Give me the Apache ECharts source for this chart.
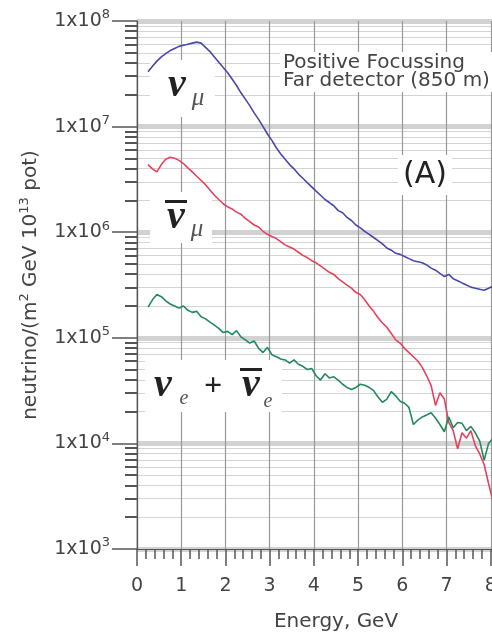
<!DOCTYPE html>
<html><head><meta charset="utf-8">
<script src="https://cdn.jsdelivr.net/npm/echarts@6/dist/echarts.min.js"></script>
<style>html,body{margin:0;padding:0;background:#fff}#c{width:492px;height:637px}</style>
</head><body><div id="c"></div>
<script>
// Energy bin centres (GeV)
const energy = [0.25,0.35,0.45,0.55,0.65,0.75,0.85,0.95,1.05,1.15,
 1.25,1.35,1.45,1.55,1.65,1.75,1.85,1.95,2.05,2.15,
 2.25,2.35,2.45,2.55,2.65,2.75,2.85,2.95,3.05,3.15,
 3.25,3.35,3.45,3.55,3.65,3.75,3.85,3.95,4.05,4.15,
 4.25,4.35,4.45,4.55,4.65,4.75,4.85,4.95,5.05,5.15,
 5.25,5.35,5.45,5.55,5.65,5.75,5.85,5.95,6.05,6.15,
 6.25,6.35,6.45,6.55,6.65,6.75,6.85,6.95,7.05,7.15,
 7.25,7.35,7.45,7.55,7.65,7.75,7.85,7.95,8.05];
// nu_mu flux
const numu = [3.31e7,3.72e7,4.17e7,4.57e7,4.90e7,5.25e7,5.50e7,5.75e7,5.89e7,6.03e7,
 6.17e7,6.31e7,6.17e7,5.62e7,5.13e7,4.57e7,4.07e7,3.63e7,3.24e7,2.82e7,
 2.45e7,2.09e7,1.82e7,1.58e7,1.35e7,1.17e7,1.00e7,8.51e6,7.41e6,6.31e6,
 5.50e6,4.90e6,4.37e6,3.98e6,3.55e6,3.24e6,2.95e6,2.69e6,2.45e6,2.24e6,
 2.04e6,1.91e6,1.78e6,1.60e6,1.53e6,1.38e6,1.29e6,1.17e6,1.10e6,1.02e6,
 9.55e5,8.91e5,8.32e5,7.76e5,7.08e5,6.76e5,6.31e5,6.17e5,5.89e5,5.62e5,
 5.37e5,5.25e5,5.13e5,4.90e5,4.57e5,4.37e5,4.07e5,3.80e5,3.98e5,3.63e5,
 3.47e5,3.31e5,3.16e5,3.02e5,2.95e5,2.88e5,2.82e5,2.95e5,3.09e5];
// anti nu_mu flux
const numubar = [4.37e6,3.98e6,3.72e6,4.37e6,4.90e6,5.13e6,5.01e6,4.79e6,4.47e6,4.07e6,
 3.72e6,3.39e6,3.09e6,2.82e6,2.51e6,2.24e6,2.04e6,1.86e6,1.74e6,1.66e6,
 1.55e6,1.48e6,1.35e6,1.26e6,1.17e6,1.12e6,1.02e6,9.55e5,9.12e5,8.71e5,
 8.13e5,7.59e5,7.24e5,6.92e5,6.46e5,6.03e5,5.75e5,5.37e5,5.13e5,4.79e5,
 4.47e5,4.17e5,3.98e5,3.63e5,3.39e5,3.16e5,2.95e5,2.69e5,2.57e5,2.29e5,
 2.00e5,1.78e5,1.55e5,1.38e5,1.26e5,1.10e5,9.55e4,8.91e4,7.94e4,7.24e4,
 6.61e4,6.03e4,5.25e4,4.37e4,3.55e4,2.29e4,3.02e4,2.63e4,1.58e4,1.32e4,
 8.91e3,1.26e4,1.12e4,1.32e4,9.55e3,7.94e3,6.31e3,4.17e3,2.82e3];
// nu_e + anti nu_e flux
const nue = [1.95e5,2.29e5,2.57e5,2.45e5,2.24e5,2.09e5,2.00e5,1.91e5,2.00e5,1.82e5,
 1.74e5,1.78e5,1.58e5,1.51e5,1.41e5,1.32e5,1.23e5,1.12e5,1.15e5,1.07e5,
 1.17e5,1.02e5,9.55e4,8.91e4,9.33e4,7.94e4,7.24e4,8.13e4,6.92e4,6.61e4,
 6.31e4,6.17e4,5.75e4,6.17e4,5.62e4,5.37e4,5.01e4,5.13e4,4.37e4,3.98e4,
 4.57e4,4.17e4,4.27e4,3.98e4,3.63e4,3.39e4,3.24e4,3.39e4,3.63e4,3.55e4,
 3.39e4,3.16e4,2.75e4,2.45e4,2.63e4,3.09e4,2.82e4,2.51e4,2.40e4,2.19e4,
 1.51e4,1.66e4,1.78e4,1.86e4,1.95e4,1.74e4,1.51e4,1.29e4,1.78e4,1.41e4,
 1.58e4,1.55e4,1.32e4,1.45e4,1.26e4,1.05e4,6.92e3,1.00e4,1.12e4];

const xTickLabels = ['0','1','2','3','4','5','6','7','8'];
const yTickExponents = [3,4,5,6,7,8];
const yMinorTicks = [];
for (let d = 3; d < 8; d++) for (let m = 2; m <= 9; m++) yMinorTicks.push(m * Math.pow(10, d));

const pairs = arr => energy.map((e, i) => [e, arr[i]]);
const FONT = '"DejaVu Sans", sans-serif';
const SERIF = '"Liberation Serif", "DejaVu Serif", serif';
const expLabel = v => {
  const e = Math.round(Math.log10(v));
  return yTickExponents.indexOf(e) >= 0 ? '1x10{sup|' + e + '}' : '';
};

const chart = echarts.init(document.getElementById('c'), null, {renderer: 'canvas'});
chart.setOption({
  animation: false,
  backgroundColor: '#fff',
  grid: {left: 137, top: 21, width: 398, height: 528, show: true, borderColor: '#999', borderWidth: 1,
         backgroundColor: 'transparent', containLabel: false, outerBoundsMode: 'none'},
  xAxis: {
    type: 'value', min: 0, max: 9, interval: 1,
    axisLine: {show: true, onZero: false, lineStyle: {color: '#555', width: 1.2}},
    axisTick: {show: true, length: 17, inside: false, lineStyle: {color: '#555', width: 1.5}},
    minorTick: {show: true, splitNumber: 5, length: 10, lineStyle: {color: '#555', width: 1.5}},
    splitLine: {show: true, lineStyle: {color: '#999', width: 1.2}},
    axisLabel: {margin: 28, fontSize: 19, color: '#444', fontFamily: FONT,
      formatter: (v, i) => (xTickLabels[i] !== undefined ? xTickLabels[i] : '')},
    name: 'Energy, GeV', nameLocation: 'middle', nameGap: 63, nameMoveOverlap: false,
    nameTextStyle: {fontSize: 20, color: '#444', fontFamily: FONT}
  },
  yAxis: [{
    type: 'log', logBase: 10, min: 1e3, max: 1e8, splitNumber: 5, position: 'left',
    axisLine: {show: true, lineStyle: {color: '#555', width: 1.2}},
    axisTick: {show: true, length: 25, inside: false, lineStyle: {color: '#555', width: 1.5}},
    splitLine: {show: true, lineStyle: {color: '#d2d2d2', width: 5}},
    axisLabel: {margin: 27, fontSize: 19, color: '#444', fontFamily: FONT,
      formatter: expLabel,
      rich: {sup: {fontSize: 13, fontFamily: FONT, color: '#444', verticalAlign: 'top', padding: [0, 0, 12, 0]}}},
    name: 'neutrino/(m{sup|2} GeV 10{sup|13} pot)', nameLocation: 'middle', nameGap: 94, nameRotate: 90,
    nameMoveOverlap: false,
    nameTextStyle: {fontSize: 20, color: '#444', fontFamily: FONT,
      rich: {sup: {fontSize: 13, fontFamily: FONT, color: '#444', verticalAlign: 'top', padding: [0, 0, 12, 0]}}}
  }, {
    type: 'log', logBase: 10, min: 1e3, max: 1e8, position: 'left',
    axisLine: {show: false},
    axisLabel: {show: false},
    axisTick: {show: true, length: 12, inside: false, customValues: yMinorTicks, lineStyle: {color: '#555', width: 2}},
    splitLine: {show: true, lineStyle: {color: '#d4d4d4', width: 1}}
  }],
  series: [
    {type: 'line', name: 'numu', data: pairs(numu), showSymbol: false, yAxisIndex: 0,
     lineStyle: {color: '#4a48a8', width: 1.6}, itemStyle: {color: '#4a48a8'}, z: 3},
    {type: 'line', name: 'numubar', data: pairs(numubar), showSymbol: false, yAxisIndex: 0,
     lineStyle: {color: '#e8415e', width: 1.6}, itemStyle: {color: '#e8415e'}, z: 3},
    {type: 'line', name: 'nue', data: pairs(nue), showSymbol: false, yAxisIndex: 0,
     lineStyle: {color: '#23895e', width: 1.6}, itemStyle: {color: '#23895e'}, z: 4}
  ],
  graphic: [
    {type: 'rect', shape: {x: 150, y: 60, width: 65, height: 57}, style: {fill: '#fff'}, z: 1},
    {type: 'rect', shape: {x: 150, y: 192, width: 62, height: 51}, style: {fill: '#fff'}, z: 1},
    {type: 'rect', shape: {x: 145, y: 360, width: 137, height: 52}, style: {fill: '#fff'}, z: 1},
    {type: 'rect', shape: {x: 280, y: 52, width: 212, height: 40}, style: {fill: '#fff'}, z: 1},
    {type: 'rect', shape: {x: 398, y: 155, width: 54, height: 40}, style: {fill: '#fff'}, z: 1},
    // nu_mu
    {type: 'text', x: 177, y: 86, z: 5, style: {text: 'ν', fontSize: 40, fontStyle: 'italic', fontWeight: 'bold', fontFamily: SERIF, fill: '#222', align: 'center', verticalAlign: 'middle'}},
    {type: 'text', x: 198, y: 98, z: 5, style: {text: 'μ', fontSize: 25, fontStyle: 'italic', fontFamily: SERIF, fill: '#555', align: 'center', verticalAlign: 'middle'}},
    // anti nu_mu
    {type: 'text', x: 176, y: 218, z: 5, style: {text: 'ν', fontSize: 40, fontStyle: 'italic', fontWeight: 'bold', fontFamily: SERIF, fill: '#222', align: 'center', verticalAlign: 'middle'}},
    {type: 'rect', shape: {x: 165, y: 200, width: 22, height: 3}, style: {fill: '#222'}, z: 5},
    {type: 'text', x: 197, y: 229, z: 5, style: {text: 'μ', fontSize: 25, fontStyle: 'italic', fontFamily: SERIF, fill: '#555', align: 'center', verticalAlign: 'middle'}},
    // nu_e + anti nu_e
    {type: 'text', x: 163, y: 386, z: 5, style: {text: 'ν', fontSize: 40, fontStyle: 'italic', fontWeight: 'bold', fontFamily: SERIF, fill: '#222', align: 'center', verticalAlign: 'middle'}},
    {type: 'text', x: 184, y: 399, z: 5, style: {text: 'e', fontSize: 20, fontStyle: 'italic', fontFamily: SERIF, fill: '#555', align: 'center', verticalAlign: 'middle'}},
    {type: 'text', x: 213, y: 387, z: 5, style: {text: '+', fontSize: 32, fontWeight: 'bold', fontFamily: SERIF, fill: '#222', align: 'center', verticalAlign: 'middle'}},
    {type: 'text', x: 251, y: 386, z: 5, style: {text: 'ν', fontSize: 40, fontStyle: 'italic', fontWeight: 'bold', fontFamily: SERIF, fill: '#222', align: 'center', verticalAlign: 'middle'}},
    {type: 'rect', shape: {x: 240, y: 368, width: 22, height: 3}, style: {fill: '#222'}, z: 5},
    {type: 'text', x: 268, y: 402, z: 5, style: {text: 'e', fontSize: 20, fontStyle: 'italic', fontFamily: SERIF, fill: '#555', align: 'center', verticalAlign: 'middle'}},
    // annotations
    {type: 'text', x: 283, y: 54, z: 5, style: {text: 'Positive Focussing\nFar detector (850 m)', fontSize: 20, lineHeight: 18, fontFamily: FONT, fill: '#444', align: 'left', verticalAlign: 'top'}},
    {type: 'text', x: 425, y: 175, z: 5, style: {text: '(A)', fontSize: 30, fontFamily: FONT, fill: '#222', align: 'center', verticalAlign: 'middle'}}
  ]
});
</script>
</body></html>
